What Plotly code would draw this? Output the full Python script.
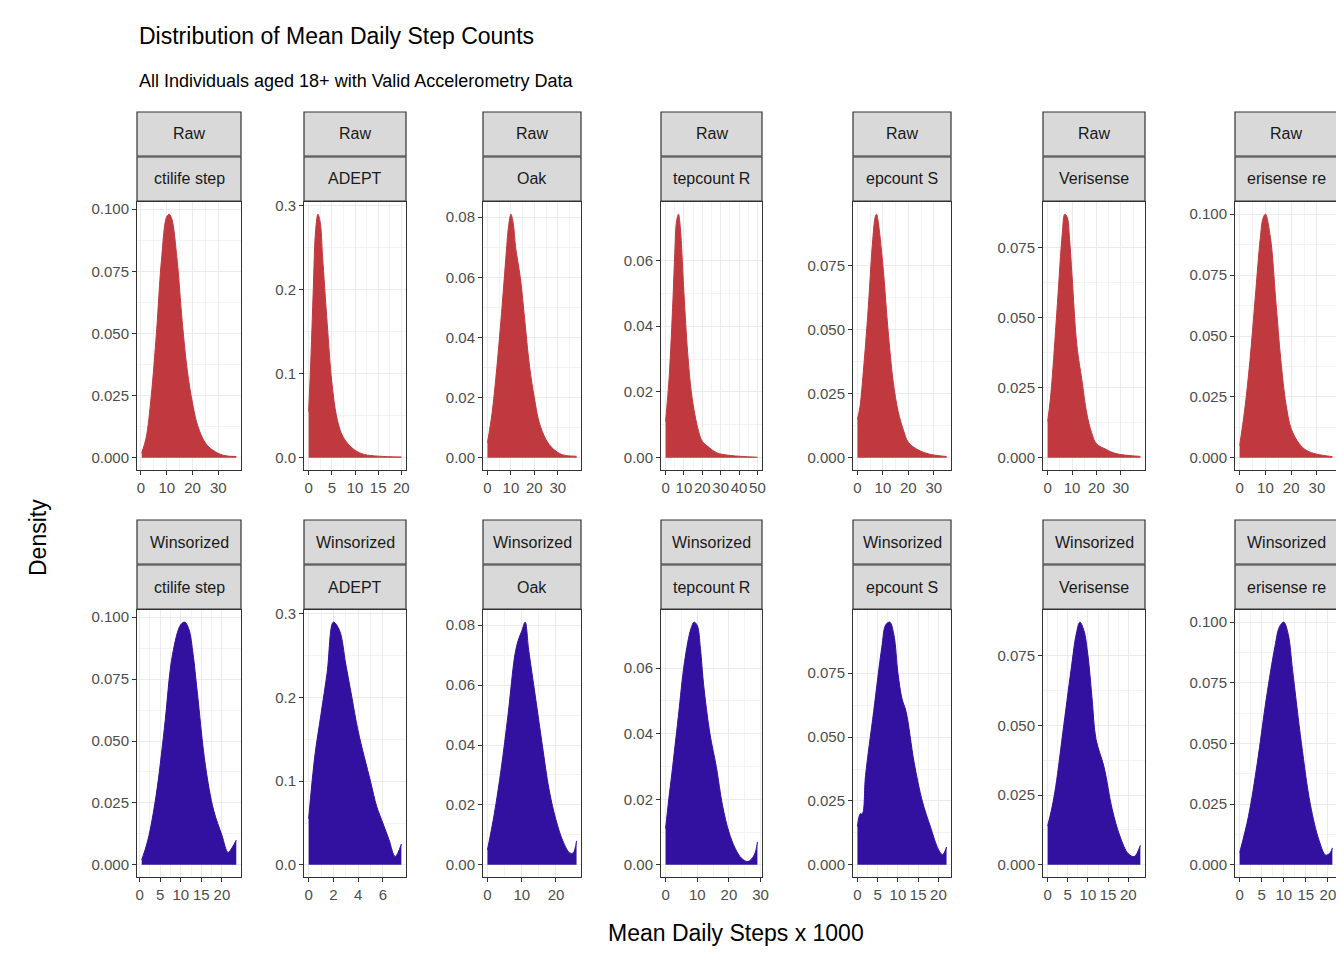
import plotly.graph_objects as go

methods = ["ctilife step", "ADEPT", "Oak", "tepcount R", "epcount S", "Verisense", "erisense re"]

# raw densities (x = steps/1000, y = density)
raw_x = [
    [0.3, 2, 4, 6, 8, 10, 11, 12, 14, 16, 18, 20, 22, 25, 28, 32, 37],
    [0.0, 0.5, 1, 1.5, 2, 2.5, 3, 4, 5, 6, 7, 8, 10, 12, 15, 20],
    [0.0, 2, 4, 6, 8, 9, 10, 11, 12, 14, 16, 18, 20, 22, 25, 28, 32, 38],
    [0.0, 2, 4, 5, 6, 7, 8, 10, 12, 14, 16, 18, 20, 24, 28, 34, 42, 50],
    [0.0, 1, 2, 4, 6, 7, 7.5, 8, 10, 12, 14, 16, 18, 20, 24, 28, 35],
    [0.0, 1, 2, 4, 6, 7, 8, 9, 10, 12, 14, 16, 18, 20, 24, 28, 38],
    [0.0, 2, 4, 6, 8, 9, 10, 12, 14, 16, 18, 20, 23, 26, 30, 36],
]
raw_y = [
    [0.002, 0.008, 0.025, 0.05, 0.08, 0.097, 0.098, 0.096, 0.08, 0.055, 0.035, 0.022, 0.013, 0.006, 0.003, 0.001, 0.0005],
    [0.055, 0.12, 0.2, 0.27, 0.29, 0.28, 0.24, 0.16, 0.09, 0.05, 0.03, 0.02, 0.009, 0.004, 0.002, 0.001],
    [0.005, 0.015, 0.03, 0.048, 0.068, 0.077, 0.081, 0.078, 0.07, 0.06, 0.045, 0.03, 0.02, 0.012, 0.006, 0.003, 0.001, 0.0005],
    [0.011, 0.025, 0.048, 0.062, 0.072, 0.074, 0.07, 0.05, 0.032, 0.02, 0.013, 0.008, 0.005, 0.003, 0.0015, 0.0008, 0.0004, 0.0002],
    [0.015, 0.02, 0.03, 0.055, 0.085, 0.094, 0.095, 0.093, 0.075, 0.05, 0.03, 0.018, 0.011, 0.006, 0.003, 0.0015, 0.0005],
    [0.013, 0.02, 0.03, 0.055, 0.08, 0.087, 0.086, 0.078, 0.065, 0.04, 0.028, 0.016, 0.009, 0.005, 0.003, 0.0015, 0.0005],
    [0.005, 0.02, 0.04, 0.065, 0.09, 0.098, 0.1, 0.09, 0.065, 0.04, 0.022, 0.012, 0.006, 0.003, 0.0015, 0.0005],
]

# winsorized densities
win_x = [
    [0.5, 2, 4, 6, 8, 10, 11, 12, 13, 14, 16, 18, 20, 21.5, 22.5, 23.5],
    [0.0, 0.5, 1, 1.5, 2, 2.5, 3, 3.5, 4, 5, 5.5, 6, 6.5, 7, 7.5],
    [0.0, 2, 4, 6, 8, 9, 10, 11, 12, 14, 16, 18, 20, 22, 24, 25, 26],
    [0.0, 1, 2, 4, 6, 8, 9, 10, 11, 12, 14, 16, 18, 20, 22, 24, 26, 28, 29],
    [0.0, 0.7, 1.2, 2, 4, 6, 7, 8, 9, 10, 11, 12, 14, 16, 18, 20, 21, 22],
    [0.0, 1, 2, 4, 6, 7, 8, 9, 10, 11, 12, 14, 16, 18, 20, 21.5, 23],
    [0.0, 2, 4, 6, 8, 9, 10, 11, 12, 14, 16, 18, 19.5, 20.5, 21],
]
win_y = [
    [0.002, 0.01, 0.028, 0.055, 0.085, 0.097, 0.098, 0.095, 0.085, 0.07, 0.04, 0.022, 0.012, 0.005, 0.007, 0.01],
    [0.055, 0.13, 0.18, 0.23, 0.29, 0.28, 0.24, 0.2, 0.16, 0.1, 0.07, 0.05, 0.03, 0.01, 0.025],
    [0.005, 0.017, 0.032, 0.05, 0.07, 0.075, 0.078, 0.081, 0.072, 0.056, 0.04, 0.025, 0.015, 0.008, 0.004, 0.004, 0.008],
    [0.011, 0.02, 0.028, 0.045, 0.062, 0.072, 0.074, 0.073, 0.066, 0.055, 0.04, 0.03, 0.018, 0.01, 0.005, 0.002, 0.001, 0.003, 0.007],
    [0.015, 0.02, 0.02, 0.035, 0.06, 0.085, 0.094, 0.095, 0.09, 0.075, 0.065, 0.06, 0.04, 0.025, 0.015, 0.006, 0.004, 0.007],
    [0.014, 0.02, 0.028, 0.05, 0.072, 0.082, 0.087, 0.084, 0.075, 0.06, 0.045, 0.035, 0.02, 0.01, 0.004, 0.003, 0.007],
    [0.005, 0.02, 0.042, 0.068, 0.09, 0.098, 0.1, 0.095, 0.08, 0.05, 0.025, 0.01, 0.004, 0.005, 0.007],
]

raw_xticks = [[0, 10, 20, 30], [0, 5, 10, 15, 20], [0, 10, 20, 30, 40], [0, 10, 20, 30, 40, 50],
              [0, 10, 20, 30], [0, 10, 20, 30, 40], [0, 10, 20, 30]]
win_xticks = [[0, 5, 10, 15, 20], [0, 2, 4, 6], [0, 10, 20], [0, 10, 20, 30],
              [0, 5, 10, 15, 20], [0, 5, 10, 15, 20], [0, 5, 10, 15, 20]]
yticks = [([0, 0.025, 0.05, 0.075, 0.1], "%.3f"), ([0, 0.1, 0.2, 0.3], "%.1f"),
          ([0, 0.02, 0.04, 0.06, 0.08], "%.2f"), ([0, 0.02, 0.04, 0.06], "%.2f"),
          ([0, 0.025, 0.05, 0.075], "%.3f"), ([0, 0.025, 0.05, 0.075], "%.3f"),
          ([0, 0.025, 0.05, 0.075, 0.1], "%.3f")]

W, H = 1344, 960
col_px = [(129, 233), (296, 398), (475, 573), (653, 754), (845, 943), (1035, 1137), (1227, 1329)]
rows = [dict(strip1=(104, 148), strip2=(149, 193), panel=(194, 462), label="Raw",
             xs=raw_x, ys=raw_y, xt=raw_xticks, color="#C0393F"),
        dict(strip1=(512, 556), strip2=(557, 601), panel=(602, 869), label="Winsorized",
             xs=win_x, ys=win_y, xt=win_xticks, color="#3311A0")]

fig = go.Figure()
shapes, annotations = [], []
axis_font = dict(family="Liberation Sans, Arial", size=15, color="#4D4D4D")
n = 0
for r, row in enumerate(rows):
    for c in range(7):
        n += 1
        xa = "x" if n == 1 else f"x{n}"
        ya = "y" if n == 1 else f"y{n}"
        xs, ys = row["xs"][c], row["ys"][c]
        fig.add_trace(go.Scatter(x=xs, y=ys, mode="lines", fill="tozeroy", line=dict(color=row["color"], width=1, shape="spline"),
                                 fillcolor=row["color"], xaxis=xa, yaxis=ya, showlegend=False, hoverinfo="skip"))
        x0, x1 = col_px[c]
        p0, p1 = row["panel"]
        xspan = max(xs) - min(xs)
        ymax = max(ys)
        tv, fmt = yticks[c]
        xt = row["xt"][c]
        common = dict(showline=True, mirror=True, linecolor="#333333", linewidth=1, ticks="outside", ticklen=4,
                      tickcolor="#333333", gridcolor="#EBEBEB", gridwidth=1.2, zeroline=False, tickfont=axis_font,
                      automargin=False, tickangle=0)
        fig.update_layout({
            ("xaxis" if n == 1 else f"xaxis{n}"): dict(domain=[x0 / W, x1 / W], anchor=ya, tickvals=xt,
                                                      range=[min(xs) - 0.05 * xspan, max(xs) + 0.05 * xspan],
                                                      minor=dict(showgrid=True, gridcolor="#F3F3F3", ticks="",
                                                                 tickvals=[(a + b) / 2 for a, b in zip(xt, xt[1:])]),
                                                      **common),
            ("yaxis" if n == 1 else f"yaxis{n}"): dict(domain=[1 - p1 / H, 1 - p0 / H], anchor=xa, tickvals=tv,
                                                      ticktext=[fmt % v for v in tv],
                                                      range=[-0.05 * ymax, 1.05 * ymax],
                                                      minor=dict(showgrid=True, gridcolor="#F3F3F3", ticks="",
                                                                 tickvals=[(a + b) / 2 for a, b in zip(tv, tv[1:])]),
                                                      **common),
        })
        for (s0, s1), txt in [(row["strip1"], row["label"]), (row["strip2"], methods[c])]:
            shapes.append(dict(type="rect", xref="paper", yref="paper", x0=x0 / W, x1=x1 / W,
                               y0=1 - s1 / H, y1=1 - s0 / H, fillcolor="#D9D9D9", line=dict(color="#333333", width=1.2)))
            annotations.append(dict(xref="paper", yref="paper", x=(x0 + x1) / 2 / W, y=1 - (s0 + s1) / 2 / H,
                                    xanchor="center", yanchor="middle",
                                    text=txt, showarrow=False, font=dict(family="Liberation Sans, Arial", size=16, color="#1A1A1A")))

title_font = dict(family="Liberation Sans, Arial", color="black")
annotations += [
    dict(xref="paper", yref="paper", x=129 / W, y=1 - 28 / H, xanchor="left", yanchor="middle",
         text="Distribution of Mean Daily Step Counts", showarrow=False, font=dict(size=23, **title_font)),
    dict(xref="paper", yref="paper", x=129 / W, y=1 - 73 / H, xanchor="left", yanchor="middle",
         text="All Individuals aged 18+ with Valid Accelerometry Data", showarrow=False, font=dict(size=18, **title_font)),
    dict(xref="paper", yref="paper", x=30 / W, y=1 - 530 / H, xanchor="center", yanchor="middle",
         text="Density", textangle=-90, showarrow=False, font=dict(size=23, **title_font)),
    dict(xref="paper", yref="paper", x=728 / W, y=1 - 925 / H, xanchor="center", yanchor="middle",
         text="Mean Daily Steps x 1000", showarrow=False, font=dict(size=23, **title_font)),
]
fig.update_layout(width=W, height=H, margin=dict(l=0, r=0, t=0, b=0), plot_bgcolor="white", paper_bgcolor="white",
                  shapes=shapes, annotations=annotations)
fig.write_html("out.html")
